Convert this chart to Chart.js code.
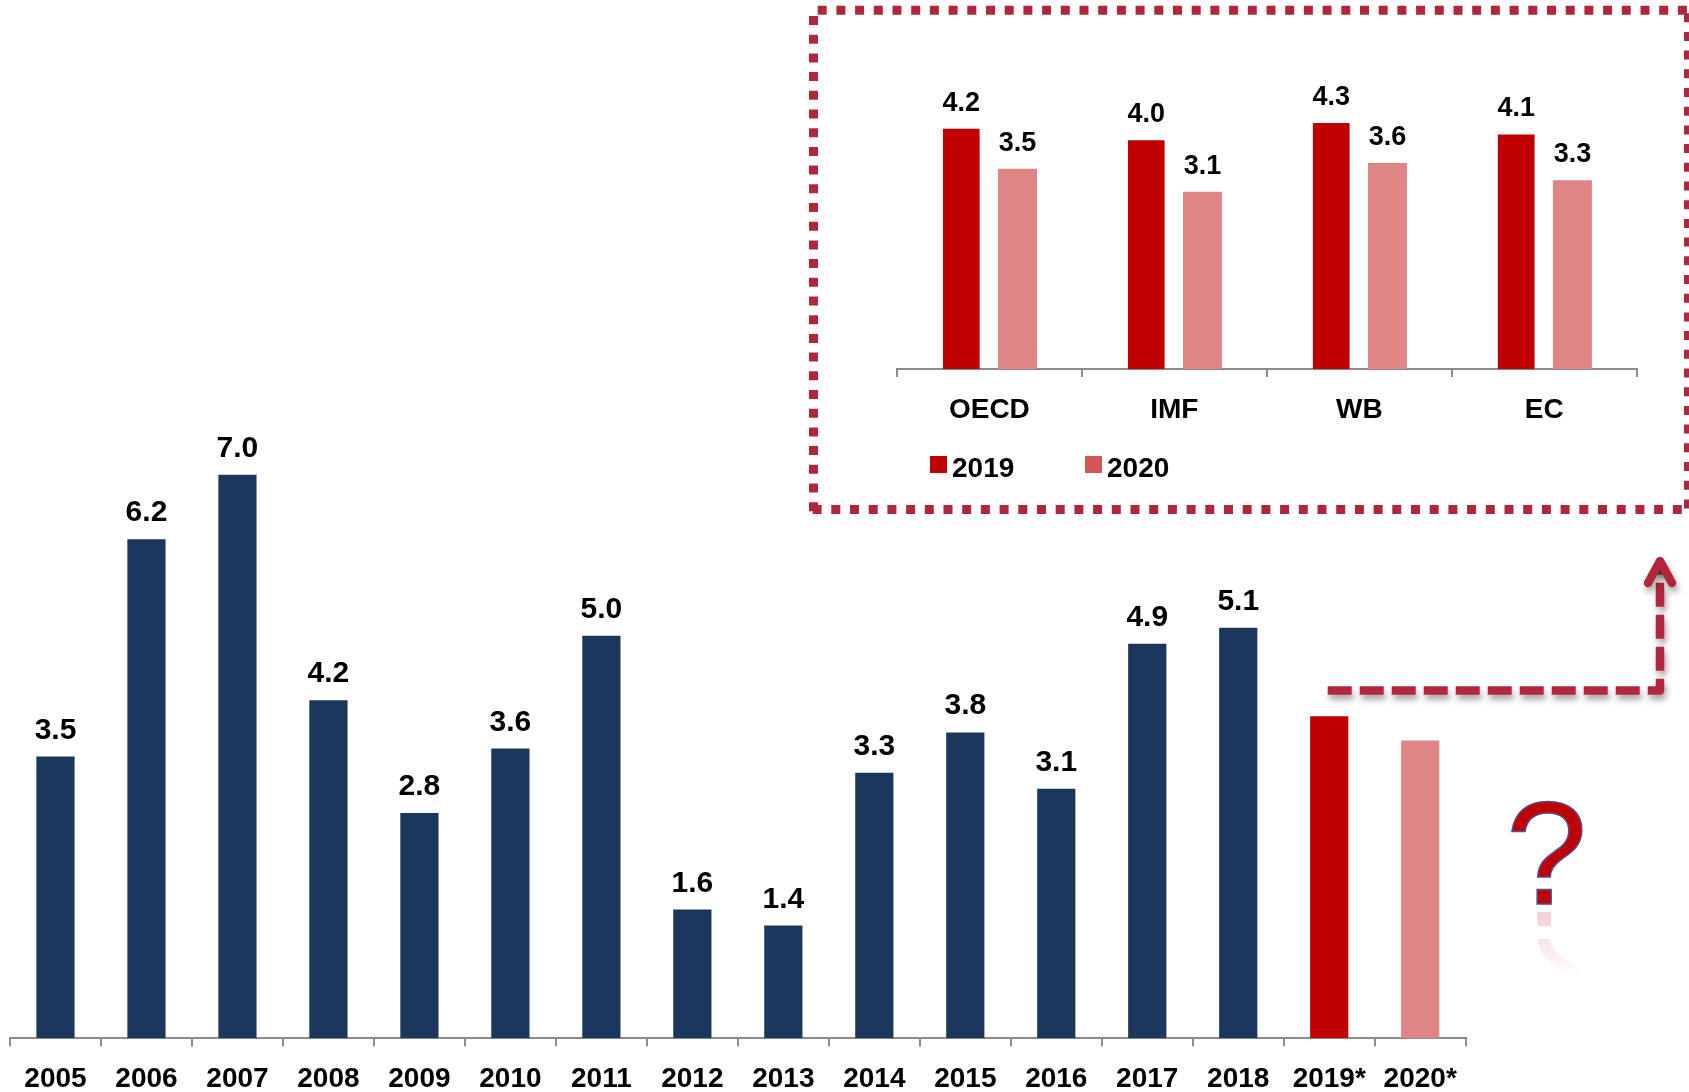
<!DOCTYPE html>
<html><head><meta charset="utf-8">
<script src="https://cdn.jsdelivr.net/npm/chart.js@4.4.1/dist/chart.umd.min.js"></script>
<style>
html,body{margin:0;padding:0;background:#fff;width:1689px;height:1092px;overflow:hidden}
#mainWrap{position:absolute;left:0;top:0;width:1689px;height:1092px}
#insetWrap{position:absolute;left:818px;top:15px;width:866px;height:490px}
canvas{display:block}
</style></head><body>
<div id="mainWrap"><canvas id="main" width="1689" height="1092"></canvas></div>
<div id="insetWrap"><canvas id="inset" width="866" height="490"></canvas></div>
<script>
// ---- data ----
const years = ['2005','2006','2007','2008','2009','2010','2011','2012','2013','2014','2015','2016','2017','2018','2019*','2020*'];
const growth = [3.5,6.2,7.0,4.2,2.8,3.6,5.0,1.6,1.4,3.3,3.8,3.1,4.9,5.1,4.0,3.7];
const institutions = ['OECD','IMF','WB','EC'];
const seriesNames = ['2019','2020'];
const forecast2019 = [4.2,4.0,4.3,4.1];
const forecast2020 = [3.5,3.1,3.6,3.3];

// ---- styles ----
const FONT = '"Liberation Sans", Arial, Helvetica, sans-serif';
const NAVY = '#1b375e', RED = '#c00000', PINK = '#e08585';
const legendColors = ['#c00000', '#d55656'];
const AXIS = '#8c8c8c';
const CRIMSON = '#b2263c';
Chart.defaults.font.family = FONT;

function valueLabelPlugin(id, size, gap, skipForecast) {
  return {
    id,
    afterDatasetsDraw(chart) {
      const ctx = chart.ctx;
      ctx.save();
      ctx.font = 'bold ' + size + 'px ' + FONT;
      ctx.fillStyle = '#000';
      ctx.textAlign = 'center';
      ctx.textBaseline = 'alphabetic';
      chart.data.datasets.forEach((ds, di) => {
        chart.getDatasetMeta(di).data.forEach((bar, i) => {
          if (skipForecast && String(chart.data.labels[i]).endsWith('*')) return;
          ctx.fillText(ds.data[i].toFixed(1), bar.x, bar.y - gap);
        });
      });
      ctx.restore();
    }
  };
}

const decorPlugin = {
  id: 'decor',
  afterDraw(chart) {
    const ctx = chart.ctx;
    ctx.save();
    // dotted frame around the inset
    ctx.strokeStyle = CRIMSON;
    ctx.lineWidth = 9;
    ctx.setLineDash([9, 9.7]);
    const seg = (x1, y1, x2, y2) => { ctx.beginPath(); ctx.moveTo(x1, y1); ctx.lineTo(x2, y2); ctx.stroke(); };
    seg(817.7, 10.2, 1689, 10.2);
    seg(813.5, 16, 813.5, 514);
    seg(812.6, 509.5, 1689, 509.5);
    seg(1688.5, 13.2, 1688.5, 514);
    ctx.restore();

    // dashed arrow with shadow
    ctx.save();
    ctx.strokeStyle = CRIMSON;
    ctx.lineWidth = 8.5;
    ctx.lineJoin = 'round';
    ctx.shadowColor = 'rgba(0,0,0,0.35)';
    ctx.shadowBlur = 6;
    ctx.shadowOffsetX = 2;
    ctx.shadowOffsetY = 5;
    ctx.setLineDash([24, 8]);
    ctx.beginPath();
    ctx.moveTo(1327.7, 690.5);
    ctx.lineTo(1660, 690.5);
    ctx.lineTo(1660, 562);
    ctx.stroke();
    ctx.setLineDash([]);
    ctx.lineCap = 'round';
    ctx.beginPath();
    ctx.moveTo(1648, 583);
    ctx.lineTo(1660, 561);
    ctx.lineTo(1672, 583);
    ctx.stroke();
    ctx.restore();

    // question mark with reflection
    ctx.save();
    ctx.font = '146px ' + FONT;
    ctx.textAlign = 'center';
    ctx.textBaseline = 'alphabetic';
    const qx = 1546.7, qb = 904, axisY = 907.8;
    ctx.save();
    ctx.translate(0, 2 * axisY);
    ctx.scale(1, -1);
    const g = ctx.createLinearGradient(0, qb, 0, qb - 65);
    g.addColorStop(0, 'rgba(200,40,60,0.22)');
    g.addColorStop(1, 'rgba(200,40,60,0)');
    ctx.fillStyle = g;
    ctx.fillText('?', qx, qb);
    ctx.restore();
    ctx.fillStyle = RED;
    ctx.fillText('?', qx, qb);
    ctx.strokeStyle = '#5b4b8a';
    ctx.lineWidth = 1.6;
    ctx.strokeText('?', qx, qb);
    ctx.restore();
  }
};

const insetLegendPlugin = {
  id: 'insetLegend',
  afterDraw(chart) {
    const ctx = chart.ctx;
    ctx.save();
    ctx.font = 'bold 28px ' + FONT;
    ctx.fillStyle = '#000';
    ctx.textBaseline = 'alphabetic';
    ctx.textAlign = 'left';
    chart.data.datasets.forEach((ds, i) => {
      const bx = 112 + i * 155;
      ctx.fillStyle = legendColors[i];
      ctx.fillRect(bx, 441, 17, 17);
      ctx.fillStyle = '#000';
      ctx.fillText(ds.label, bx + 22, 461.7);
    });
    ctx.restore();
  }
};

function xAxis(height) {
  return {
    type: 'category',
    offset: true,
    grid: { display: true, drawOnChartArea: false, drawTicks: true, tickLength: 8, offset: true, color: AXIS, lineWidth: 2 },
    border: { display: true, color: AXIS, width: 2 },
    ticks: { color: '#000', font: { size: 28, weight: 'bold', family: FONT }, padding: 16, maxRotation: 0, autoSkip: false },
    afterFit: (s) => { s.height = height; }
  };
}

new Chart(document.getElementById('main'), {
  type: 'bar',
  data: {
    labels: years,
    datasets: [{
      label: 'growth',
      data: growth,
      backgroundColor: years.map(y => y === '2019*' ? RED : (y === '2020*' ? PINK : NAVY)),
      borderWidth: 0,
      barPercentage: 0.42,
      categoryPercentage: 1
    }]
  },
  options: {
    responsive: false,
    devicePixelRatio: 1,
    animation: false,
    layout: { padding: { left: 10, right: 223.3, top: 394.3, bottom: 0 } },
    plugins: { legend: { display: false }, tooltip: { enabled: false } },
    scales: {
      x: xAxis(53.7),
      y: { display: false, min: 0, max: 8 }
    }
  },
  plugins: [valueLabelPlugin('mainLabels', 30, 18, true), decorPlugin]
});

new Chart(document.getElementById('inset'), {
  type: 'bar',
  data: {
    labels: institutions,
    datasets: [
      { label: seriesNames[0], data: forecast2019, backgroundColor: RED, borderWidth: 0, barPercentage: 0.653, categoryPercentage: 0.6076 },
      { label: seriesNames[1], data: forecast2020, backgroundColor: PINK, borderWidth: 0, barPercentage: 0.694, categoryPercentage: 0.6076 }
    ]
  },
  options: {
    responsive: false,
    devicePixelRatio: 1,
    animation: false,
    layout: { padding: { left: 78.9, right: 47.2, top: 10.8, bottom: 76 } },
    plugins: { legend: { display: false }, tooltip: { enabled: false } },
    scales: {
      x: xAxis(60),
      y: { display: false, min: 0, max: 6 }
    }
  },
  plugins: [valueLabelPlugin('insetLabels', 27, 18, false), insetLegendPlugin]
});
</script>
</body></html>
